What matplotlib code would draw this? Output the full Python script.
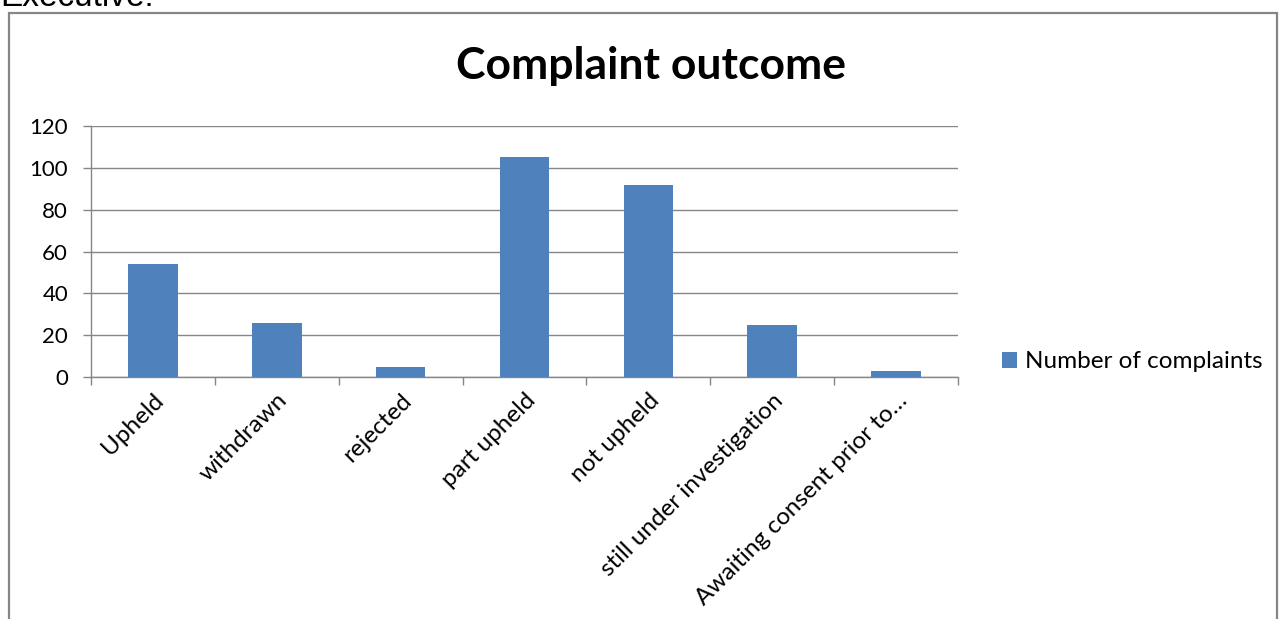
import numpy as np
import matplotlib.pyplot as plt
from matplotlib.patches import Rectangle

# Data
categories = ["Upheld", "withdrawn", "rejected", "part upheld", "not upheld",
              "still under investigation", "Awaiting consent prior to\u2026"]
complaints = [54, 26, 5, 105, 92, 25, 3]
y_ticks = [0, 20, 40, 60, 80, 100, 120]

plt.rcParams['font.family'] = ['Lato', 'DejaVu Sans']
grey = '#868686'
blue = '#4F81BD'

fig = plt.figure(figsize=(12.8, 6.19), dpi=100)

# surrounding chart frame and cut-off document text
fig.patches.append(Rectangle((9 / 1280, -0.1), (1277 - 9) / 1280, 1.1 - 13 / 619,
                             transform=fig.transFigure, fill=False,
                             edgecolor=grey, linewidth=1.6))
fig.text(0.0, 1 - 6 / 619, "Executive:", family='Liberation Sans',
         fontsize=24, va='baseline', ha='left')

ax = fig.add_axes([91 / 1280, 1 - 377 / 619, (958 - 91) / 1280, (377 - 126) / 619])
x = np.arange(len(categories))
ax.bar(x, complaints, width=0.4, color=blue, zorder=3, label="Number of complaints")

ax.set_xlim(-0.5, len(categories) - 0.5)
ax.set_ylim(0, 120)
ax.set_yticks(y_ticks)
ax.tick_params(axis='y', labelsize=16, length=5.5, color=grey, width=1, pad=11)
ax.yaxis.grid(True, color=grey, linewidth=1, zorder=0)

# category ticks between bars, labels at bar centres
ax.set_xticks(np.arange(len(categories) + 1) - 0.5)
ax.set_xticklabels([])
ax.set_xticks(x, minor=True)
ax.set_xticklabels(categories, minor=True, rotation=45, ha='right',
                   rotation_mode='anchor', fontsize=17.5)
ax.tick_params(axis='x', which='major', length=5.5, color=grey, width=1)
ax.tick_params(axis='x', which='minor', length=0, pad=9)

for side in ['top', 'right']:
    ax.spines[side].set_visible(False)
for side in ['left', 'bottom']:
    ax.spines[side].set_color(grey)
    ax.spines[side].set_linewidth(1)

fig.text(651 / 1280, 1 - 66 / 619, "Complaint outcome", fontsize=32,
         fontweight='bold', ha='center', va='center')

fig.legend(loc='center left', bbox_to_anchor=(1002 / 1280, 1 - 362 / 619),
           frameon=False, fontsize=17.5, handlelength=0.6, handleheight=0.6,
           handletextpad=0.35, borderaxespad=0, borderpad=0)

fig.savefig("out.png", dpi=100)
